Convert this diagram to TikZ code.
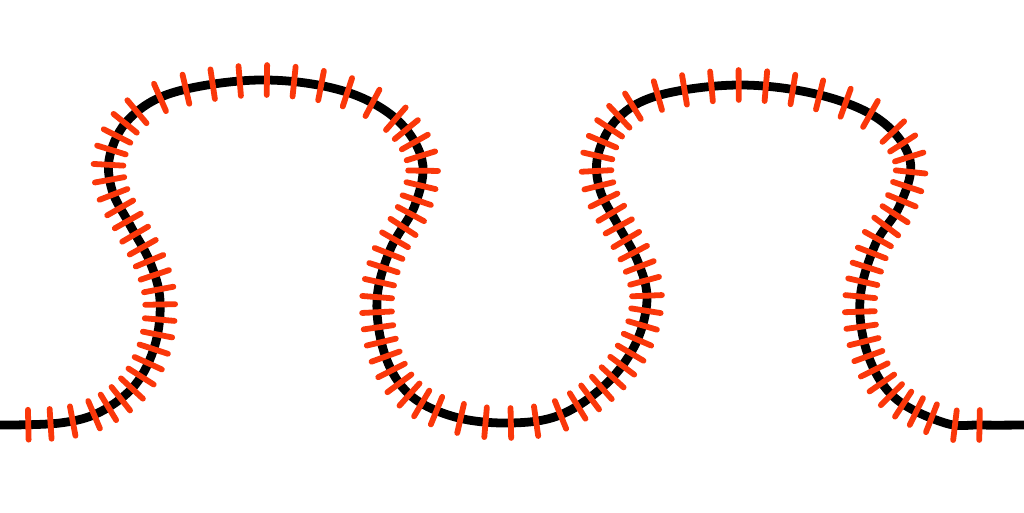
\documentclass[tikz,border=0pt]{standalone}
\usetikzlibrary{decorations.markings}
\definecolor{tickred}{RGB}{250,55,10}
\newcommand\hair{\draw[tickred, line width=3.3pt, line cap=round] (0,-8.5pt) -- (0,8.5pt);}
\tikzset{
  ribbon/.style={line width=5pt, black},
  hairs/.style={decoration={markings,
      mark=between positions 16.1pt and 62pt step 12.7pt with {\hair},
      mark=between positions 63.4pt and 252pt step 8.6pt with {\hair},
      mark=between positions 253.4pt and 407pt step 15.5pt with {\hair},
      mark=between positions 409pt and 597pt step 8.6pt with {\hair},
      mark=between positions 599pt and 680pt step 14.4pt with {\hair},
      mark=between positions 682pt and 879pt step 8.6pt with {\hair},
      mark=between positions 881pt and 1035pt step 15.5pt with {\hair},
      mark=between positions 1037pt and 1225pt step 8.6pt with {\hair},
      mark=between positions 1227pt and 1262pt step 14pt with {\hair}},
    postaction={decorate}}
}
\begin{document}
\begin{tikzpicture}[x=0.02cm, y=0.02cm]
\useasboundingbox (0,0) rectangle (1024,512);
\draw[ribbon, hairs] plot[smooth, tension=0.6] coordinates {
  (0,87) (60,89) (100,100) (135,127) (155,167) (160,212) (150,250) (130,287)
  (112,322) (110,357) (130,394) (175,420) (260,432) (340,422) (395,394)
  (422,352) (415,307) (390,262) (377,212) (385,157) (410,117) (455,95)
  (510,89) (560,97) (605,127) (635,167) (647,212) (638,250) (618,287)
  (600,322) (598,357) (618,394) (660,417) (740,427) (820,417) (880,392)
  (910,352) (900,307) (875,267) (860,212) (868,157) (895,114) (945,89)
  (980,87) (1024,87)};
\end{tikzpicture}
\end{document}
